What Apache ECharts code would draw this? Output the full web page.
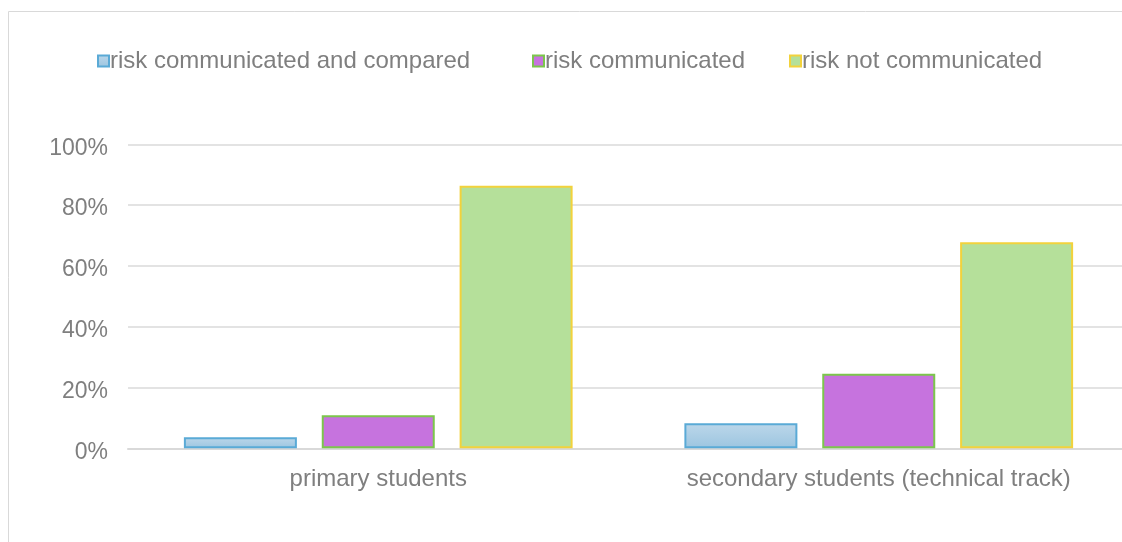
<!DOCTYPE html>
<html><head><meta charset="utf-8">
<script src="https://cdn.jsdelivr.net/npm/echarts@6/dist/echarts.min.js"></script>
<style>html,body{margin:0;padding:0;background:#fff;overflow:hidden;width:1122px;height:542px}#c{width:1150px;height:542px}</style>
</head><body><div id="c"></div>
<script>
const categories = ['primary students', 'secondary students (technical track)'];
const seriesNames = ['risk communicated and compared', 'risk communicated', 'risk not communicated'];
const comparedValues = [3.6, 8.2];
const communicatedValues = [10.9, 24.5];
const notCommunicatedValues = [86.4, 67.8];
const yTicks = [0, 20, 40, 60, 80, 100];

const font = 'Liberation Sans, Arial, Helvetica, sans-serif';
const txt = '#7f7f7f';
const styles = [
  {color: {type:'linear',x:0,y:0,x2:0,y2:1,colorStops:[{offset:0,color:'#bcd7ea'},{offset:1,color:'#9cc5e0'}]}, borderColor:'#5aaad6', borderWidth:2},
  {color:'#c673de', borderColor:'#7cc64c', borderWidth:2},
  {color:'#b5e09a', borderColor:'#f2d23c', borderWidth:2}
];
const values = [comparedValues, communicatedValues, notCommunicatedValues];
const legendLefts = [92, 527, 784];

const chart = echarts.init(document.getElementById('c'), null, {renderer:'canvas'});
chart.setOption({
  animation:false,
  graphic:[{type:'rect', silent:true, shape:{x:8.5,y:11.5,width:1200,height:600}, style:{fill:'none', stroke:'#d9d9d9', lineWidth:1}}],
  legend: seriesNames.map((n,i)=>({
    data:[n], left:legendLefts[i], top:44, itemWidth:11, itemHeight:11, icon:'rect',
    textStyle:{fontFamily:font, fontSize:24, color:txt, padding:[0,0,0,-4]}
  })),
  grid:{left:128, top:144.3, width:1001, height:304, containLabel:false},
  xAxis:{type:'category', data:categories,
    axisLine:{lineStyle:{color:'#d9d9d9', width:2}}, axisTick:{show:false},
    axisLabel:{fontFamily:font, fontSize:24, color:txt, margin:19}},
  yAxis:{type:'value', min:0, max:100, interval:20,
    axisLabel:{formatter: v=> yTicks.includes(v) ? '{a|' + v + '%}' : '', color:txt, margin:20,
      rich:{a:{fontFamily:font, fontSize:23, color:txt, padding:[8,0,0,0]}}},
    axisLine:{show:false}, axisTick:{show:false},
    splitLine:{lineStyle:{color:'#e3e3e3', width:2}}},
  series: seriesNames.map((n,i)=>({
    name:n, type:'bar', data:values[i], barWidth:113, barGap:'22%',
    itemStyle:styles[i]
  }))
});
</script></body></html>
